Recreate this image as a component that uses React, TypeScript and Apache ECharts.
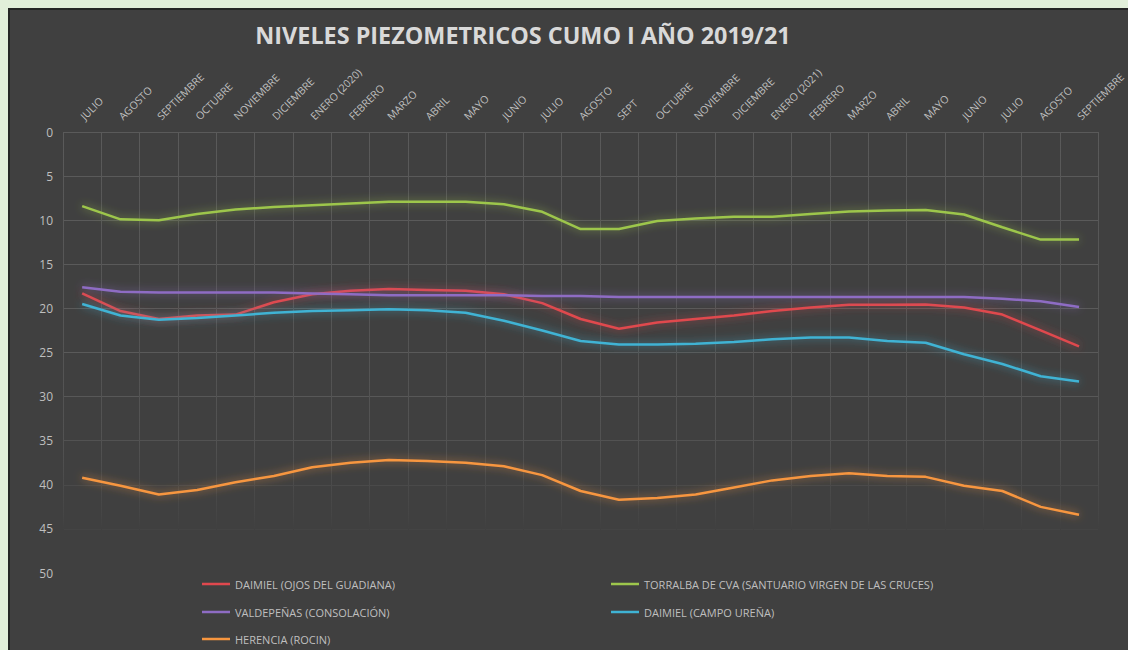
import React, { useEffect, useRef } from "react";
import * as echarts from "echarts";

const categories = [
  "JULIO", "AGOSTO", "SEPTIEMBRE", "OCTUBRE", "NOVIEMBRE", "DICIEMBRE", "ENERO (2020)",
  "FEBRERO", "MARZO", "ABRIL", "MAYO", "JUNIO", "JULIO", "AGOSTO", "SEPT", "OCTUBRE",
  "NOVIEMBRE", "DICIEMBRE", "ENERO (2021)", "FEBRERO", "MARZO", "ABRIL", "MAYO", "JUNIO",
  "JULIO", "AGOSTO", "SEPTIEMBRE",
];

const daimielOjos = [18.3, 20.3, 21.2, 20.8, 20.7, 19.3, 18.4, 18.0, 17.8, 17.9, 18.0, 18.4, 19.4, 21.2, 22.3, 21.6, 21.2, 20.8, 20.3, 19.9, 19.6, 19.6, 19.55, 19.9, 20.7, 22.5, 24.3];
const torralba = [8.4, 9.9, 10.0, 9.3, 8.8, 8.5, 8.3, 8.1, 7.9, 7.9, 7.9, 8.2, 9.05, 11.0, 11.0, 10.1, 9.8, 9.6, 9.6, 9.3, 9.0, 8.9, 8.85, 9.35, 10.8, 12.2, 12.2];
const valdepenas = [17.6, 18.1, 18.2, 18.2, 18.2, 18.2, 18.3, 18.4, 18.5, 18.5, 18.5, 18.5, 18.6, 18.6, 18.7, 18.7, 18.7, 18.7, 18.7, 18.7, 18.7, 18.7, 18.7, 18.7, 18.9, 19.2, 19.85];
const daimielCampo = [19.5, 20.8, 21.3, 21.1, 20.8, 20.5, 20.3, 20.2, 20.1, 20.2, 20.5, 21.4, 22.5, 23.7, 24.1, 24.1, 24.0, 23.8, 23.5, 23.3, 23.3, 23.7, 23.9, 25.2, 26.3, 27.7, 28.3];
const herencia = [39.2, 40.1, 41.1, 40.6, 39.7, 39.0, 38.0, 37.5, 37.2, 37.3, 37.5, 37.9, 38.9, 40.7, 41.7, 41.5, 41.1, 40.3, 39.5, 39.0, 38.7, 39.0, 39.1, 40.1, 40.7, 42.5, 43.4];

const seriesNames = [
  "DAIMIEL (OJOS DEL GUADIANA)",
  "TORRALBA DE CVA (SANTUARIO VIRGEN DE LAS CRUCES)",
  "VALDEPEÑAS (CONSOLACIÓN)",
  "DAIMIEL (CAMPO UREÑA)",
  "HERENCIA (ROCIN)",
];
const seriesData = [daimielOjos, torralba, valdepenas, daimielCampo, herencia];
const seriesColors = ["#e0484e", "#9dc64c", "#8e6cc4", "#3fb3d4", "#f7963f"];
const seriesGlow = [
  "rgba(224,72,78,0.7)",
  "rgba(157,198,76,0.7)",
  "rgba(142,108,196,0.7)",
  "rgba(63,179,212,0.7)",
  "rgba(247,150,63,0.7)",
];

const title = "NIVELES PIEZOMETRICOS CUMO I AÑO 2019/21";
const FONT = "'Open Sans', 'Noto Sans', sans-serif";

// legend placement: [left, top] per series, in chart coordinates
const legendPos: [number, number][] = [
  [192, 567],
  [601, 567],
  [192, 595],
  [601, 595],
  [192, 622],
];

export default function App() {
  const ref = useRef<HTMLDivElement>(null);

  useEffect(() => {
    if (!ref.current) return;
    const chart = echarts.init(ref.current, undefined, { renderer: "svg" });
    const option = {
      animation: false,
      backgroundColor: "#404040",
      textStyle: { fontFamily: FONT },
      graphic: [
        {
          type: "text",
          x: 513,
          y: 25,
          style: {
            text: title,
            fill: "#d9d9d9",
            font: `bold 23.4px ${FONT}`,
            textAlign: "center",
            textVerticalAlign: "middle",
          },
        },
      ],
      grid: { left: 53, right: 20, top: 122, bottom: 77, containLabel: false },
      xAxis: {
        type: "category",
        position: "top",
        data: categories,
        boundaryGap: true,
        axisLine: { show: false },
        axisTick: { show: false },
        axisLabel: {
          interval: 0,
          rotate: 45,
          color: "#bfbfbf",
          fontSize: 10.5,
          margin: 14,
          fontFamily: FONT,
        },
        splitLine: {
          show: true,
          lineStyle: {
            width: 1,
            color: new echarts.graphic.LinearGradient(
              0, 122, 0, 563,
              [
                { offset: 0, color: "#5a5a5a" },
                { offset: 0.7, color: "#525252" },
                { offset: 0.87, color: "#454545" },
                { offset: 0.9, color: "#404040" },
                { offset: 1, color: "#404040" },
              ],
              true
            ),
          },
        },
      },
      yAxis: {
        type: "value",
        inverse: true,
        min: 0,
        max: 50,
        interval: 5,
        axisLine: { show: false },
        axisTick: { show: false },
        axisLabel: { color: "#bfbfbf", fontSize: 12, margin: 10, fontFamily: FONT },
        splitLine: {
          show: true,
          lineStyle: {
            width: 1,
            color: [
              "#5a5a5a", "#5a5a5a", "#5a5a5a", "#5a5a5a", "#5a5a5a", "#5a5a5a",
              "#585858", "#525252", "#4a4a4a", "#444444", "#404040",
            ],
          },
        },
      },
      legend: seriesNames.map((name, i) => ({
        left: legendPos[i][0],
        top: legendPos[i][1],
        orient: "horizontal",
        itemWidth: 28,
        itemHeight: 2.5,
        icon: "rect",
        padding: 0,
        textStyle: { color: "#bfbfbf", fontSize: 11, lineHeight: 14, fontFamily: FONT },
        data: [name],
      })),
      series: seriesNames.map((name, i) => ({
        name,
        type: "line",
        data: seriesData[i],
        symbol: "none",
        smooth: false,
        color: seriesColors[i],
        itemStyle: { color: seriesColors[i] },
        lineStyle: {
          width: 2.5,
          color: seriesColors[i],
          shadowColor: seriesGlow[i],
          shadowBlur: 8,
        },
      })),
    };
    chart.setOption(option as any);
    return () => chart.dispose();
  }, []);

  return (
    <div
      style={{
        position: "fixed",
        left: 0,
        top: 0,
        width: 1128,
        height: 650,
        background: "#e2efda",
        overflow: "hidden",
      }}
    >
      <div
        ref={ref}
        style={{
          position: "absolute",
          left: 8,
          top: 8,
          width: 1118,
          height: 640,
          border: "2px solid #262626",
        }}
      />
    </div>
  );
}
